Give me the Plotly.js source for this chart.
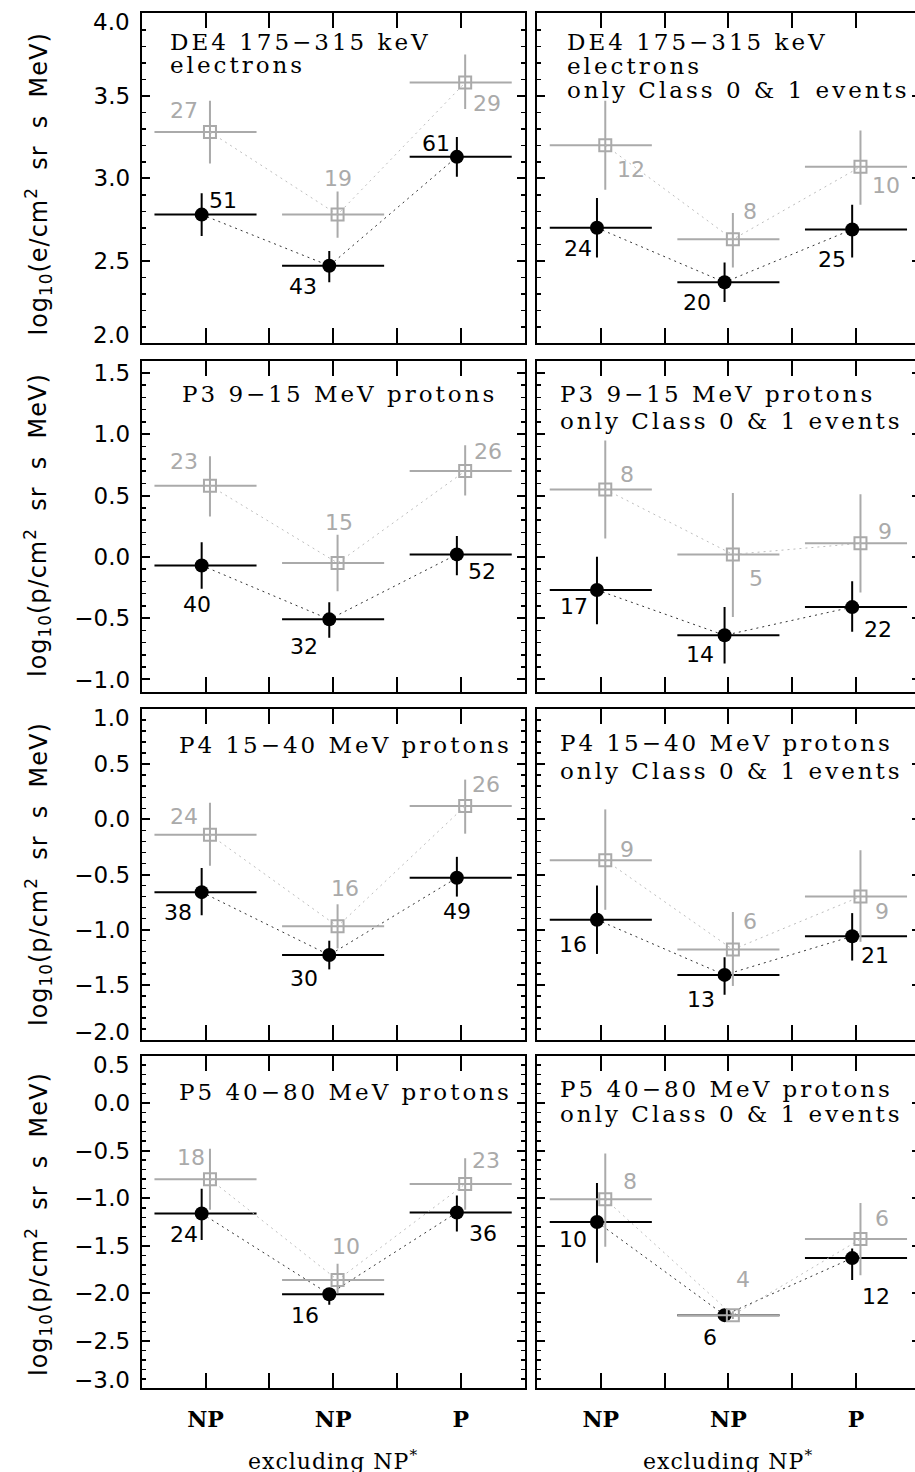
<!DOCTYPE html>
<html>
<head>
<meta charset="utf-8">
<script src="https://cdn.plot.ly/plotly-3.0.1.min.js"></script>
<style>
html, body { margin: 0; padding: 0; overflow: hidden; background: #fff; }
.annotation-text[style*="DejaVu Serif"][style*="23px"] { letter-spacing: 3px; }
.annotation-text[style*="DejaVu Serif"][style*="22px"] { letter-spacing: 1px; }
.annotation-text[style*="DejaVu Sans"][style*="24px"] { letter-spacing: 1px; }
</style>
</head>
<body>
<div id="chart"></div>
<script>
// ---------------- DATA ----------------
const categories = ['NP', 'NP', 'P'];
const categoryPos = [1, 3, 5];
const xTitle = 'excluding NP<sup>*</sup>';

const panelTitles = [
  ['DE4 175−315 keV', 'electrons'],
  ['DE4 175−315 keV', 'electrons', 'only Class 0 & 1 events'],
  ['P3 9−15 MeV protons'],
  ['P3 9−15 MeV protons', 'only Class 0 & 1 events'],
  ['P4 15−40 MeV protons'],
  ['P4 15−40 MeV protons', 'only Class 0 & 1 events'],
  ['P5 40−80 MeV protons'],
  ['P5 40−80 MeV protons', 'only Class 0 & 1 events']
];
const yTitles = [
  'log<sub>10</sub>(e/cm<sup>2</sup>  sr  s  MeV)',
  'log<sub>10</sub>(p/cm<sup>2</sup>  sr  s  MeV)',
  'log<sub>10</sub>(p/cm<sup>2</sup>  sr  s  MeV)',
  'log<sub>10</sub>(p/cm<sup>2</sup>  sr  s  MeV)'
];

// Row 1: DE4 175-315 keV electrons (all events)
const de4AllBlack   = [2.78, 2.47, 3.13];
const de4AllBlackHi = [2.91, 2.56, 3.25];
const de4AllBlackLo = [2.65, 2.37, 3.01];
const de4AllBlackN  = [51, 43, 61];
const de4AllGray    = [3.28, 2.78, 3.58];
const de4AllGrayHi  = [3.47, 2.92, 3.75];
const de4AllGrayLo  = [3.09, 2.64, 3.42];
const de4AllGrayN   = [27, 19, 29];
// Row 1: only Class 0 & 1
const de4C01Black   = [2.70, 2.37, 2.69];
const de4C01BlackHi = [2.88, 2.49, 2.84];
const de4C01BlackLo = [2.52, 2.25, 2.52];
const de4C01BlackN  = [24, 20, 25];
const de4C01Gray    = [3.20, 2.63, 3.07];
const de4C01GrayHi  = [3.47, 2.79, 3.29];
const de4C01GrayLo  = [2.93, 2.46, 2.84];
const de4C01GrayN   = [12, 8, 10];

// Row 2: P3 9-15 MeV protons
const p3AllBlack   = [-0.07, -0.51, 0.02];
const p3AllBlackHi = [0.12, -0.37, 0.17];
const p3AllBlackLo = [-0.26, -0.66, -0.15];
const p3AllBlackN  = [40, 32, 52];
const p3AllGray    = [0.58, -0.05, 0.70];
const p3AllGrayHi  = [0.82, 0.18, 0.91];
const p3AllGrayLo  = [0.33, -0.28, 0.50];
const p3AllGrayN   = [23, 15, 26];
const p3C01Black   = [-0.27, -0.64, -0.41];
const p3C01BlackHi = [0.00, -0.41, -0.20];
const p3C01BlackLo = [-0.55, -0.87, -0.61];
const p3C01BlackN  = [17, 14, 22];
const p3C01Gray    = [0.55, 0.02, 0.11];
const p3C01GrayHi  = [0.95, 0.52, 0.51];
const p3C01GrayLo  = [0.15, -0.49, -0.29];
const p3C01GrayN   = [8, 5, 9];

// Row 3: P4 15-40 MeV protons
const p4AllBlack   = [-0.66, -1.23, -0.53];
const p4AllBlackHi = [-0.44, -1.10, -0.34];
const p4AllBlackLo = [-0.87, -1.36, -0.70];
const p4AllBlackN  = [38, 30, 49];
const p4AllGray    = [-0.14, -0.97, 0.12];
const p4AllGrayHi  = [0.15, -0.77, 0.36];
const p4AllGrayLo  = [-0.42, -1.17, -0.13];
const p4AllGrayN   = [24, 16, 26];
const p4C01Black   = [-0.91, -1.41, -1.06];
const p4C01BlackHi = [-0.60, -1.25, -0.85];
const p4C01BlackLo = [-1.22, -1.59, -1.28];
const p4C01BlackN  = [16, 13, 21];
const p4C01Gray    = [-0.37, -1.18, -0.70];
const p4C01GrayHi  = [0.09, -0.84, -0.28];
const p4C01GrayLo  = [-0.82, -1.51, -1.11];
const p4C01GrayN   = [9, 6, 9];

// Row 4: P5 40-80 MeV protons
const p5AllBlack   = [-1.16, -2.01, -1.15];
const p5AllBlackHi = [-0.90, -1.95, -0.97];
const p5AllBlackLo = [-1.44, -2.12, -1.35];
const p5AllBlackN  = [24, 16, 36];
const p5AllGray    = [-0.80, -1.86, -0.85];
const p5AllGrayHi  = [-0.48, -1.69, -0.58];
const p5AllGrayLo  = [-1.12, -2.00, -1.12];
const p5AllGrayN   = [18, 10, 23];
const p5C01Black   = [-1.25, -2.23, -1.63];
const p5C01BlackHi = [-0.84, -2.20, -1.53];
const p5C01BlackLo = [-1.68, -2.26, -1.86];
const p5C01BlackN  = [10, 6, 12];
const p5C01Gray    = [-1.01, -2.23, -1.43];
const p5C01GrayHi  = [-0.53, -2.19, -1.05];
const p5C01GrayLo  = [-1.51, -2.27, -1.81];
const p5C01GrayN   = [8, 4, 6];

// ---------------- STYLE / LAYOUT ----------------
const W = 921, H = 1472;
const COLS = [[141.7, 524.5], [537, 919.8]];
const ROWS = [[13.3, 343.3], [360.7, 691.7], [709, 1040], [1055.7, 1388.3]];
const YRANGES = [[2, 4], [-1.1, 1.6], [-2, 1], [-3, 0.5]];
const YTITLE_CENTER = [184.5, 525, 874, 1224];
const TITLE_POS = [
  {x: 168, y: [41.7, 64.7]},
  {x: 565, y: [41.7, 65.7, 90]},
  {x: 180, y: [394.2]},
  {x: 558, y: [394.2, 420.8]},
  {x: 177, y: [745]},
  {x: 558, y: [742.5, 771.2]},
  {x: 177, y: [1091.7]},
  {x: 558, y: [1089, 1113.8]}
];
// pixel offsets of count labels relative to marker centre [dx, dy(down)]
const LABEL_SHIFT = [
  {b: [[21,-14],[-26,21],[-21,-13]], g: [[-26,-22],[0,-36],[22,21]]},
  {b: [[-19,21],[-28,20],[-20,30]],  g: [[26,24],[17,-28],[26,19]]},
  {b: [[-5,39],[-25,27],[25,17]],    g: [[-26,-24],[1,-40],[23,-20]]},
  {b: [[-23,17],[-25,19],[26,22]],   g: [[22,-15],[23,24],[25,-12]]},
  {b: [[-24,20],[-25,23],[0,34]],    g: [[-26,-18],[7,-38],[21,-22]]},
  {b: [[-24,25],[-24,25],[23,19]],   g: [[22,-11],[17,-28],[22,15]]},
  {b: [[-18,21],[-24,21],[26,21]],   g: [[-19,-22],[8,-33],[21,-23]]},
  {b: [[-24,17],[-15,22],[24,38]],   g: [[25,-18],[10,-36],[22,-21]]}
];
const OFF_BLACK = -0.06, OFF_GRAY = 0.07, HALF = 0.8;
const BLACK = '#000000', GRAY = '#aaaaaa', GRAY_DOT = '#bdbdbd';
const TICK_FONT = {family: 'DejaVu Sans', size: 23, color: BLACK};
const YLABEL_RIGHT = 132;     // px, right edge of y tick labels
const EDGE_SHIFT = 9;         // px, edge labels pushed inside the panel

const panels = [
  {b: [de4AllBlack, de4AllBlackHi, de4AllBlackLo, de4AllBlackN], g: [de4AllGray, de4AllGrayHi, de4AllGrayLo, de4AllGrayN]},
  {b: [de4C01Black, de4C01BlackHi, de4C01BlackLo, de4C01BlackN], g: [de4C01Gray, de4C01GrayHi, de4C01GrayLo, de4C01GrayN]},
  {b: [p3AllBlack, p3AllBlackHi, p3AllBlackLo, p3AllBlackN], g: [p3AllGray, p3AllGrayHi, p3AllGrayLo, p3AllGrayN]},
  {b: [p3C01Black, p3C01BlackHi, p3C01BlackLo, p3C01BlackN], g: [p3C01Gray, p3C01GrayHi, p3C01GrayLo, p3C01GrayN]},
  {b: [p4AllBlack, p4AllBlackHi, p4AllBlackLo, p4AllBlackN], g: [p4AllGray, p4AllGrayHi, p4AllGrayLo, p4AllGrayN]},
  {b: [p4C01Black, p4C01BlackHi, p4C01BlackLo, p4C01BlackN], g: [p4C01Gray, p4C01GrayHi, p4C01GrayLo, p4C01GrayN]},
  {b: [p5AllBlack, p5AllBlackHi, p5AllBlackLo, p5AllBlackN], g: [p5AllGray, p5AllGrayHi, p5AllGrayLo, p5AllGrayN]},
  {b: [p5C01Black, p5C01BlackHi, p5C01BlackLo, p5C01BlackN], g: [p5C01Gray, p5C01GrayHi, p5C01GrayLo, p5C01GrayN]}
];

const fmt = v => v.toFixed(1).replace('-', '\u2212');

const traces = [];
const annotations = [];
const layout = {
  width: W, height: H,
  margin: {l: 0, r: 0, t: 0, b: 0},
  paper_bgcolor: '#ffffff', plot_bgcolor: '#ffffff',
  showlegend: false,
  annotations: annotations
};

function seriesTrace(series, off, isBlack, xa, ya) {
  const [v, hi, lo] = series;
  const col = isBlack ? BLACK : GRAY;
  return {
    type: 'scatter', mode: 'lines+markers',
    x: categoryPos.map(c => c + off), y: v,
    xaxis: xa, yaxis: ya,
    line: {color: isBlack ? '#333333' : GRAY_DOT, width: 1, dash: '2px,4px'},
    marker: isBlack
      ? {symbol: 'circle', size: 14, color: BLACK}
      : {symbol: 'square-open', size: 12, color: GRAY, line: {width: 2, color: GRAY}},
    error_y: {type: 'data', symmetric: false,
      array: hi.map((h, i) => h - v[i]),
      arrayminus: lo.map((l, i) => v[i] - l),
      color: col, thickness: 2, width: 0},
    error_x: {type: 'data', symmetric: false,
      array: v.map(() => HALF - off),
      arrayminus: v.map(() => HALF + off),
      color: col, thickness: 2, width: 0},
    hoverinfo: 'skip', showlegend: false, cliponaxis: false
  };
}

panels.forEach((p, k) => {
  const r = Math.floor(k / 2), c = k % 2;
  const n = k + 1;
  const xa = 'x' + (n === 1 ? '' : n), ya = 'y' + (n === 1 ? '' : n);
  const xKey = 'xaxis' + (n === 1 ? '' : n), yKey = 'yaxis' + (n === 1 ? '' : n);
  const [y0, y1] = YRANGES[r];

  // interior major y ticks (edge ticks coincide with the frame)
  const yTicks = [];
  for (let t = Math.ceil(y0 / 0.5) * 0.5; t <= y1 + 1e-9; t += 0.5) {
    if (Math.abs(t - y0) > 1e-6 && Math.abs(t - y1) > 1e-6) yTicks.push(Math.round(t * 10) / 10);
  }

  layout[xKey] = {
    domain: [COLS[c][0] / W, COLS[c][1] / W],
    anchor: ya, range: [0, 6],
    tickmode: 'array', tickvals: categoryPos, ticktext: categories,
    ticks: 'inside', ticklen: 15, tickwidth: 2, tickcolor: BLACK,
    minor: {tickmode: 'linear', tick0: 0, dtick: 1, ticks: 'inside', ticklen: 15, tickwidth: 2, tickcolor: BLACK, showgrid: false},
    showline: true, linewidth: 2, linecolor: BLACK, mirror: 'allticks',
    showgrid: false, zeroline: false,
    showticklabels: r === 3,
    ticklabelstandoff: 10,
    tickfont: {family: 'DejaVu Serif', size: 22, color: BLACK, weight: 'bold'},
    fixedrange: true
  };
  layout[yKey] = {
    domain: [1 - ROWS[r][1] / H, 1 - ROWS[r][0] / H],
    anchor: xa, range: YRANGES[r],
    tickmode: 'array', tickvals: yTicks, ticktext: yTicks.map(fmt),
    ticks: 'inside', ticklen: 8, tickwidth: 2, tickcolor: BLACK,
    minor: {tickmode: 'linear', dtick: 0.1, tick0: 0, ticks: 'inside', ticklen: 4, tickwidth: 1.5, tickcolor: BLACK, showgrid: false},
    showline: true, linewidth: 2, linecolor: BLACK, mirror: 'allticks',
    showgrid: false, zeroline: false,
    showticklabels: c === 0,
    ticklabelstandoff: 5,
    tickfont: TICK_FONT,
    fixedrange: true
  };

  // edge tick labels, nudged inside like the original
  if (c === 0) {
    [[y1, -EDGE_SHIFT], [y0, EDGE_SHIFT - 1]].forEach(([v, sh]) => {
      if (Math.abs(v * 2 - Math.round(v * 2)) < 1e-6) {
        annotations.push({
          xref: 'paper', yref: ya, x: YLABEL_RIGHT / W, y: v,
          xanchor: 'right', yanchor: 'middle', yshift: sh,
          text: fmt(v), showarrow: false, font: TICK_FONT
        });
      }
    });
  }

  traces.push(seriesTrace(p.b, OFF_BLACK, true, xa, ya));
  traces.push(seriesTrace(p.g, OFF_GRAY, false, xa, ya));

  // count labels
  [['b', OFF_BLACK, BLACK], ['g', OFF_GRAY, GRAY]].forEach(([key, off, col]) => {
    const [v, , , cnt] = p[key];
    v.forEach((yv, i) => {
      const s = LABEL_SHIFT[k][key][i];
      annotations.push({
        xref: xa, yref: ya, x: categoryPos[i] + off, y: yv,
        text: String(cnt[i]), showarrow: false,
        xanchor: 'center', yanchor: 'middle',
        xshift: s[0], yshift: -s[1],
        font: {family: 'DejaVu Sans', size: 22, color: col}
      });
    });
  });

  // panel titles
  panelTitles[k].forEach((line, j) => {
    annotations.push({
      xref: 'paper', yref: 'paper',
      x: TITLE_POS[k].x / W, y: 1 - TITLE_POS[k].y[j] / H,
      xanchor: 'left', yanchor: 'middle', align: 'left',
      text: line, showarrow: false,
      font: {family: 'DejaVu Serif', size: 23, color: BLACK}
    });
  });

  // y axis title (left column)
  if (c === 0) {
    annotations.push({
      xref: 'paper', yref: 'paper', x: 38 / W, y: 1 - YTITLE_CENTER[r] / H,
      xanchor: 'center', yanchor: 'middle', textangle: -90,
      text: yTitles[r], showarrow: false,
      font: {family: 'DejaVu Sans', size: 24, color: BLACK}
    });
  }
  // x axis title (bottom row)
  if (r === 3) {
    annotations.push({
      xref: xa, yref: 'paper', x: categoryPos[1], y: 1 - 1460 / H,
      xanchor: 'center', yanchor: 'middle',
      text: xTitle, showarrow: false,
      font: {family: 'DejaVu Serif', size: 22, color: BLACK}
    });
  }
});

Plotly.newPlot('chart', traces, layout, {staticPlot: true, displayModeBar: false});
</script>
</body>
</html>
